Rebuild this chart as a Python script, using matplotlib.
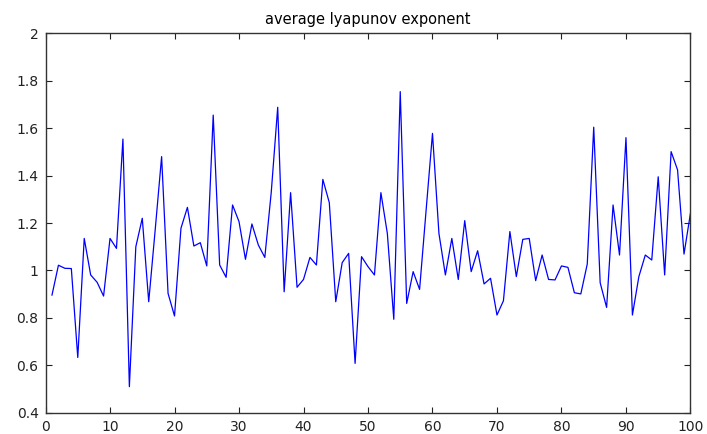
import matplotlib
matplotlib.use("Agg")
import matplotlib.pyplot as plt

# average lyapunov exponent for runs 1..100
run = list(range(1, 101))
lyap = [
    0.896, 1.022, 1.009, 1.008, 0.633, 1.135, 0.981, 0.950, 0.892, 1.135,
    1.093, 1.554, 0.510, 1.100, 1.220, 0.868, 1.170, 1.480, 0.903, 0.808,
    1.178, 1.266, 1.103, 1.117, 1.019, 1.655, 1.023, 0.971, 1.276, 1.206,
    1.047, 1.196, 1.107, 1.055, 1.330, 1.688, 0.910, 1.328, 0.929, 0.962,
    1.055, 1.023, 1.384, 1.286, 0.868, 1.033, 1.072, 0.608, 1.058, 1.016,
    0.981, 1.328, 1.156, 0.794, 1.754, 0.861, 0.995, 0.920, 1.250, 1.578,
    1.156, 0.981, 1.135, 0.962, 1.210, 0.995, 1.083, 0.943, 0.967, 0.812,
    0.872, 1.164, 0.974, 1.131, 1.135, 0.957, 1.065, 0.962, 0.960, 1.019,
    1.013, 0.906, 0.901, 1.027, 1.604, 0.948, 0.844, 1.276, 1.065, 1.560,
    0.812, 0.974, 1.065, 1.044, 1.395, 0.981, 1.501, 1.424, 1.069, 1.241,
]

x_ticks = list(range(0, 101, 10))
y_ticks = [0.4, 0.6, 0.8, 1, 1.2, 1.4, 1.6, 1.8, 2]
y_labels = ["0.4", "0.6", "0.8", "1", "1.2", "1.4", "1.6", "1.8", "2"]

plt.rcParams['font.family'] = ['DejaVu Sans']

fig = plt.figure(figsize=(7.07, 4.34), dpi=100)
ax = fig.add_axes([0.0644, 0.049, 0.9122, 0.8743])

ax.plot(run, lyap, color='#0000ff', linewidth=0.9)

ax.set_xlim(0, 100)
ax.set_ylim(0.4, 2)
ax.set_xticks(x_ticks)
ax.set_yticks(y_ticks)
ax.set_yticklabels(y_labels)
ax.tick_params(direction='in', length=4, width=0.8, labelsize=10,
               top=True, right=True, colors='#222222')
ax.tick_params(axis='x', pad=5)
ax.tick_params(axis='y', pad=5)
for s in ax.spines.values():
    s.set_color('#333333')
    s.set_linewidth(1.0)

ax.set_title('average lyapunov exponent', fontsize=10.5, pad=7)

fig.savefig('out.png', dpi=100)
